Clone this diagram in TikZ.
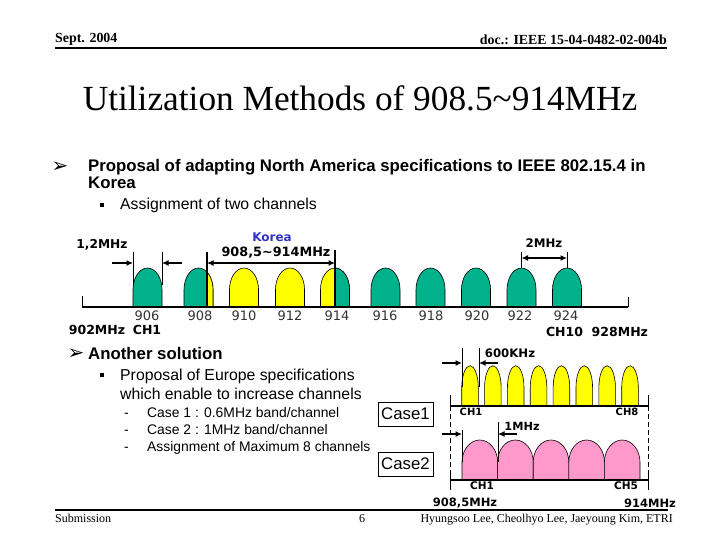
\documentclass[tikz,border=0pt]{standalone}
\usepackage{fontspec}
\setmainfont{Liberation Serif}
\newfontfamily\arialf{Liberation Sans}
\newfontfamily\djv{DejaVu Sans}
\usetikzlibrary{arrows.meta}
\definecolor{lobegreen}{RGB}{0,178,140}
\definecolor{lobeyellow}{RGB}{255,255,0}
\definecolor{lobepink}{RGB}{255,153,204}
\definecolor{koreablue}{RGB}{51,51,204}
\newcommand\drawlobe[5]{\filldraw[fill=#5,draw=black,line width=0.6pt] (#1-#2,#3) -- (#1-#2,#3-0.45*#4) .. controls (#1-#2,#3-0.75*#4) and (#1-0.55*#2,#3-#4) .. (#1,#3-#4) .. controls (#1+0.55*#2,#3-#4) and (#1+#2,#3-0.75*#4) .. (#1+#2,#3-0.45*#4) -- (#1+#2,#3) -- cycle;}
\begin{document}
\begin{tikzpicture}[x=1pt,y=-1pt,
  hdr/.style={inner sep=0, font=\bfseries\fontsize{13.9}{14}\selectfont},
  ttl/.style={inner sep=0, anchor=base, font=\fontsize{35.3}{36}\selectfont},
  bul/.style={inner sep=0, anchor=base west, font=\arialf\bfseries\fontsize{16.8}{17}\selectfont},
  subt/.style={inner sep=0, anchor=base west, font=\arialf\fontsize{15.8}{16}\selectfont},
  subsub/.style={inner sep=0, anchor=base west, font=\arialf\fontsize{13.9}{14}\selectfont},
  arrowbul/.style={inner sep=0, font=\djv\fontsize{20}{20}\selectfont},
  num/.style={inner sep=0, font=\djv\fontsize{13}{13}\selectfont, text=black!80},
  lbl/.style={inner sep=0, font=\djv\bfseries\fontsize{#1}{#1}\selectfont},
  casebox/.style={draw, line width=0.8pt, minimum width=55pt, minimum height=24pt, inner sep=0, font=\arialf\fontsize{16.8}{17}\selectfont},
  foot/.style={inner sep=0, anchor=base west, font=\fontsize{12}{13}\selectfont},
  arr/.style={-{Latex[length=6.5pt,width=6pt]}, line width=1.6pt},
  darr/.style={{Latex[length=6.5pt,width=6pt]}-{Latex[length=6.5pt,width=6pt]}, line width=1.6pt},
  vline/.style={line width=1pt}
]
\useasboundingbox[fill=white] (0,0) rectangle (720,540);

% header
\node[hdr, anchor=base west] (date) at (55,43) {Sept. 2004};
\node[hdr, anchor=base east] (doc) at (667,45) {doc.: IEEE 15-04-0482-02-004b};
\draw[line width=2pt] (55,48) -- (667,48);

% title
\node[ttl] (title) at (360,111) {Utilization Methods of 908.5\textasciitilde 914MHz};

% bullets
\node[arrowbul] (b1) at (60,167) {➢};
\node[bul] (t1a) at (88,172) {Proposal of adapting North America specifications to IEEE 802.15.4 in};
\node[bul] (t1b) at (88,189) {Korea};
\fill (99.5,203) rectangle (103.5,207);
\node[subt] (t1c) at (120,210) {Assignment of two channels};

\node[arrowbul] (b2) at (76,354) {➢};
\node[bul] (t2a) at (88,359) {Another solution};
\fill (99.5,373) rectangle (103.5,377);
\node[subt] (t2b) at (120,380) {Proposal of Europe specifications};
\node[subt] (t2c) at (120,399) {which enable to increase channels};
\node[subsub] (d1) at (124,417) {-};
\node[subsub] (t2d) at (147,417) {Case 1 : 0.6MHz band/channel};
\node[subsub] (d2) at (124,434) {-};
\node[subsub] (t2e) at (147,434) {Case 2 : 1MHz band/channel};
\node[subsub] (d3) at (124,451) {-};
\node[subsub] (t2f) at (147,451) {Assignment of Maximum 8 channels};

% ---------- top diagram ----------
\foreach \cx in {147.5,385.5,430.5,476,521.5,567} {\drawlobe{\cx}{14.5}{307}{39}{lobegreen}}
\drawlobe{198.5}{14.5}{307}{39}{lobegreen}
\begin{scope}\clip (207,240) rectangle (230,320); \drawlobe{198.5}{14.5}{307}{39}{lobeyellow}\end{scope}
\drawlobe{244}{14.5}{307}{39}{lobeyellow}
\drawlobe{290}{14.5}{307}{39}{lobeyellow}
\drawlobe{335}{14.5}{307}{39}{lobeyellow}
\begin{scope}\clip (335,240) rectangle (360,320); \drawlobe{335}{14.5}{307}{39}{lobegreen}\end{scope}

\draw[line width=2pt] (82,307) -- (628,307);
\draw[vline] (82,296) -- (82,307);
\draw[vline] (628,297) -- (628,307);

% Korea band
\draw[line width=1.3pt] (207,252) -- (207,307);
\draw[line width=1.3pt] (335,250) -- (335,307);
\coordinate (k1) at (207,263);
\coordinate (k2) at (335,263);
\draw[darr] (k1) -- (k2);
\node[lbl=12, text=koreablue] (korea) at (272,237) {Korea};
\node[lbl=12.8] (kband) at (276,253) {908,5\textasciitilde 914MHz};

% 1.2 MHz
\draw[vline] (133,252) -- (133,285);
\draw[vline] (162,252) -- (162,285);
\coordinate (a1s) at (112,263); \coordinate (a1e) at (133,263);
\coordinate (a2s) at (182,263); \coordinate (a2e) at (162,263);
\draw[arr] (a1s) -- (a1e);
\draw[arr] (a2s) -- (a2e);
\node[lbl=12.2] (w12) at (102,245) {1,2MHz};

% 2 MHz
\draw[vline] (521.5,252) -- (521.5,268);
\draw[vline] (567,252) -- (567,268);
\coordinate (m1) at (521.5,258); \coordinate (m2) at (567,258);
\draw[darr] (m1) -- (m2);
\node[lbl=11.8] (w2) at (544,243) {2MHz};

% axis labels
\foreach \x/\t in {147/906,200/908,244/910,290/912,337/914,385/916,431/918,477/920,520/922,566/924}
  {\node[num] (n\t) at (\x,316) {\t};}
\node[lbl=12.5] (f902) at (97,330) {902MHz};
\node[lbl=12.5] (ch1top) at (147,330) {CH1};
\node[lbl=12.5] (ch10) at (597,332) {CH10\ \ 928MHz};

% ---------- bottom diagram ----------
\node[casebox] (case1) at (405.5,414) {Case1};
\node[casebox] (case2) at (405.5,464) {Case2};

\foreach \i in {0,...,7} {\pgfmathsetmacro\cx{470+22.857*\i}\drawlobe{\cx}{8.3}{405.7}{40}{lobeyellow}}
\foreach \cx in {479.8,515.4,551,586.6,622.2} {\drawlobe{\cx}{17.8}{480}{40}{lobepink}}

\draw[line width=2pt] (450,405.7) -- (648,405.7);
\draw[line width=2pt] (450,480) -- (648,480);
\foreach \x in {450,648} {
  \draw[vline] (\x,395) -- (\x,406);
  \draw[vline, dash pattern=on 5pt off 3pt] (\x,406) -- (\x,473);
  \draw[vline] (\x,473) -- (\x,490);
}

% 600 KHz
\draw[vline] (462,348) -- (462,387);
\draw[vline] (479,348) -- (479,387);
\coordinate (c1s) at (442,363); \coordinate (c1e) at (462,363);
\coordinate (c2s) at (498,363); \coordinate (c2e) at (479,363);
\draw[arr] (c1s) -- (c1e);
\draw[arr] (c2s) -- (c2e);
\node[lbl=11.7] (w600) at (510,353) {600KHz};

% 1 MHz
\draw[vline] (462,430) -- (462,462);
\draw[vline] (498,422) -- (498,462);
\coordinate (e1s) at (442,434); \coordinate (e1e) at (462,434);
\coordinate (e2s) at (517,434); \coordinate (e2e) at (498,434);
\draw[arr] (e1s) -- (e1e);
\draw[arr] (e2s) -- (e2e);
\node[lbl=11.3] (w1) at (522,426) {1MHz};

\node[lbl=10] (c1ch1) at (471,412) {CH1};
\node[lbl=10] (c1ch8) at (627,412) {CH8};
\node[lbl=10.5] (c2ch1) at (482,486) {CH1};
\node[lbl=10.5] (c2ch5) at (626,486) {CH5};
\node[lbl=11.5] (lo) at (465,503) {908,5MHz};
\node[lbl=11.5] (hi) at (650,503) {914MHz};

% footer
\draw[line width=2pt] (55,510) -- (668,510);
\node[foot] (sub) at (55,522) {Submission};
\node[foot, anchor=base] (page) at (362,522) {6};
\node[foot, anchor=base east] (auth) at (673,522) {Hyungsoo Lee, Cheolhyo Lee, Jaeyoung Kim, ETRI};
\end{tikzpicture}
\end{document}
